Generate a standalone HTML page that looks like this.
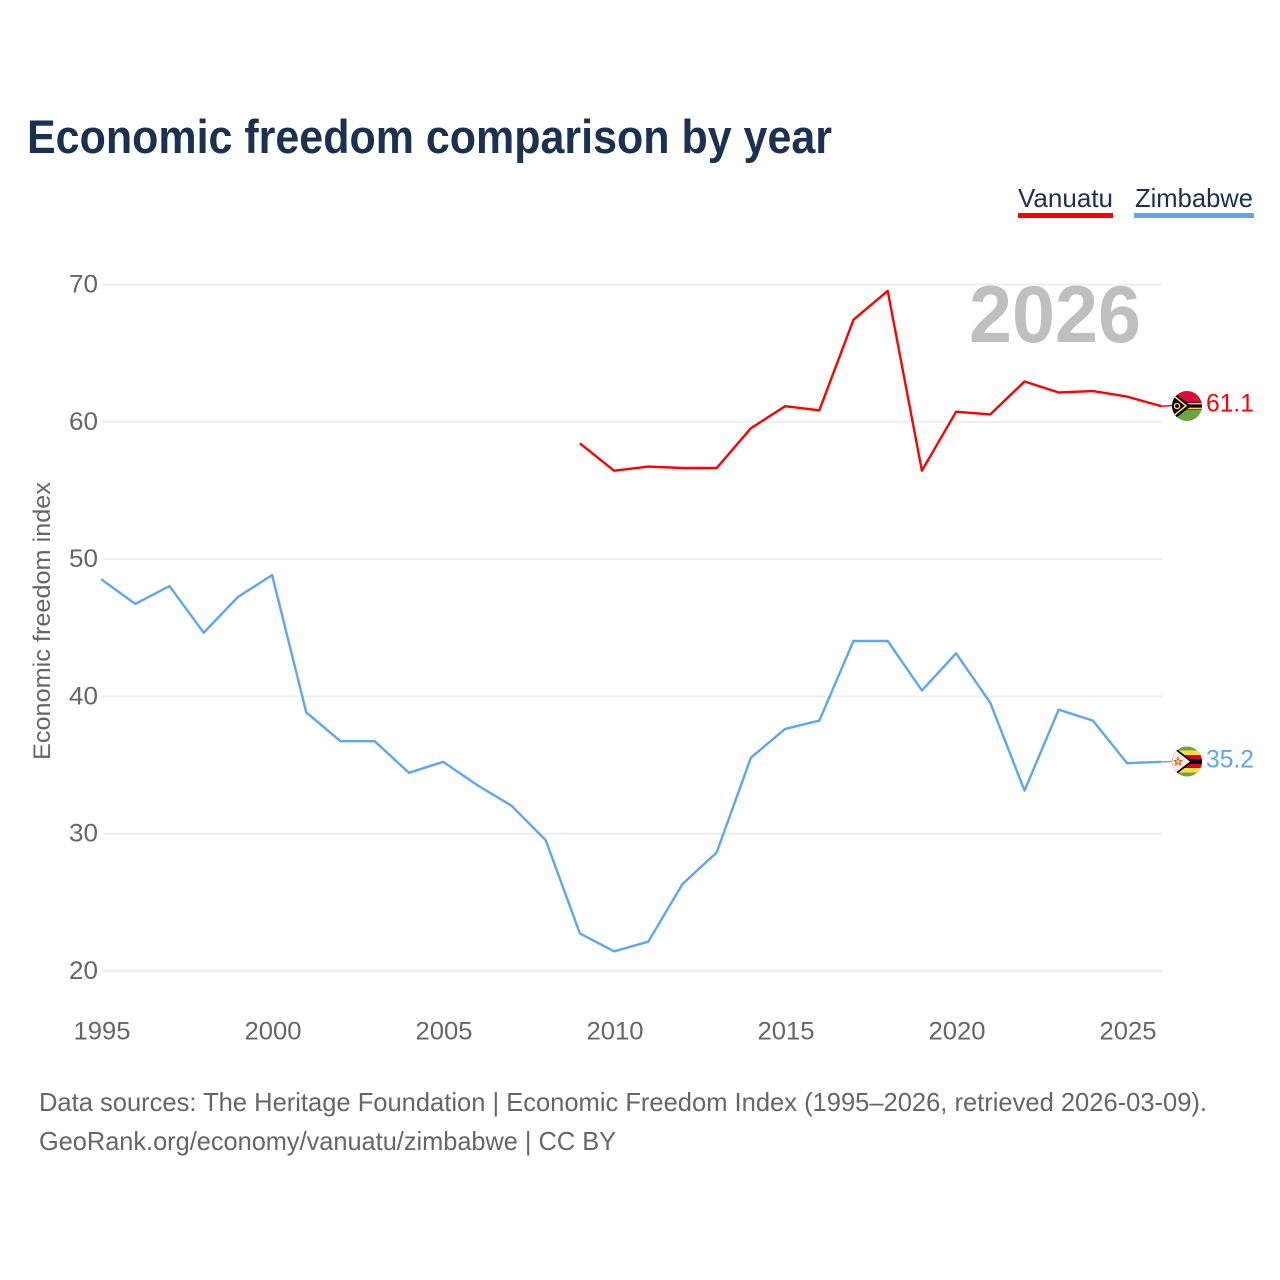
<!DOCTYPE html>
<html lang="en">
<head>
<meta charset="utf-8">
<title>Economic freedom comparison by year</title>
<style>
html,body{margin:0;padding:0;background:#fff}
svg{display:block}
text{font-family:"Liberation Sans",sans-serif}
</style>
</head>
<body>
<svg id="chart" xmlns="http://www.w3.org/2000/svg" width="1280" height="1280" viewBox="0 0 1280 1280">
  <defs>
    <clipPath id="clip-vu"><circle cx="1187" cy="406" r="15"/></clipPath>
    <clipPath id="clip-zw"><circle cx="1187" cy="761.5" r="15"/></clipPath>
  </defs>
  <rect x="0" y="0" width="1280" height="1280" fill="#fff"/>
  <text x="27" y="153" font-size="47" font-weight="700" fill="#1a3151" textLength="805" lengthAdjust="spacingAndGlyphs">Economic freedom comparison by year</text>

  <g>
    <text x="1018" y="207" font-size="26" fill="#1a3151" textLength="95" lengthAdjust="spacingAndGlyphs">Vanuatu</text>
    <rect x="1018" y="213" width="95" height="5" fill="#ff0000"/>
  </g>
  <g>
    <text x="1135" y="207" font-size="26" fill="#1a3151" textLength="118" lengthAdjust="spacingAndGlyphs">Zimbabwe</text>
    <rect x="1134" y="213" width="120" height="5" fill="#5ea6ee"/>
  </g>

  <g id="grid"></g>
  <g id="y-axis"></g>
  <g id="x-axis"></g>
  <text transform="translate(50,760) rotate(-90)" x="0" y="0" font-size="24" fill="#666" textLength="278" lengthAdjust="spacingAndGlyphs">Economic freedom index</text>
  <text x="969" y="342" font-size="81" font-weight="700" fill="#bfbfbf" textLength="172" lengthAdjust="spacingAndGlyphs">2026</text>
  <g id="series"></g>

  <g clip-path="url(#clip-vu)">
    <rect x="1172" y="391" width="30" height="15" fill="#d80f36"/>
    <rect x="1172" y="406" width="30" height="16" fill="#6da544"/>
    <rect x="1178" y="402.5" width="24" height="7" fill="#000"/>
    <rect x="1178" y="403" width="24" height="1.4" fill="#ffd83a"/>
    <rect x="1178" y="407.6" width="24" height="1.4" fill="#ffd83a"/>
    <polygon points="1172,391 1191,406 1172,421" fill="#000"/>
    <polyline points="1172,394.5 1186,405.8 1172,417" fill="none" stroke="#ffd83a" stroke-width="1.6"/>
    <circle cx="1177" cy="406" r="2.6" fill="none" stroke="#ffd83a" stroke-width="1.4"/>
  </g>
  <g clip-path="url(#clip-zw)">
    <rect x="1172" y="746" width="30" height="32" fill="#6da544"/>
    <rect x="1172" y="750.5" width="30" height="22" fill="#ffda44"/>
    <rect x="1172" y="755" width="30" height="13" fill="#d80027"/>
    <rect x="1172" y="759" width="30" height="5" fill="#000"/>
    <polygon points="1170,744 1193,761.5 1170,779" fill="#000"/>
    <polygon points="1170,746 1190,761.5 1170,777" fill="#f0f0f0"/>
    <polygon points="1178,756 1179.5,760 1183,760 1180.5,762.5 1181.5,766 1178,764 1174.5,766 1175.5,762.5 1173,760 1176.5,760" fill="#e8604a"/>
    <circle cx="1178" cy="761.5" r="1.6" fill="#ffda44"/>
  </g>
  <g id="value-labels"></g>

  <text x="39" y="1111" font-size="26" fill="#666" textLength="1168" lengthAdjust="spacingAndGlyphs">Data sources: The Heritage Foundation | Economic Freedom Index (1995–2026, retrieved 2026-03-09).</text>
  <text x="39" y="1150" font-size="26" fill="#666" textLength="577" lengthAdjust="spacingAndGlyphs">GeoRank.org/economy/vanuatu/zimbabwe | CC BY</text>
</svg>
<script>
var years = [1995,1996,1997,1998,1999,2000,2001,2002,2003,2004,2005,2006,2007,2008,2009,2010,2011,2012,2013,2014,2015,2016,2017,2018,2019,2020,2021,2022,2023,2024,2025,2026];
var vanuatuValues = [null,null,null,null,null,null,null,null,null,null,null,null,null,null,58.4,56.4,56.7,56.6,56.6,59.5,61.1,60.8,67.4,69.5,56.4,60.7,60.5,62.9,62.1,62.2,61.8,61.1];
var zimbabweValues = [48.5,46.7,48.0,44.6,47.2,48.8,38.8,36.7,36.7,34.4,35.2,33.5,32.0,29.5,22.7,21.4,22.1,26.3,28.6,35.5,37.6,38.2,44.0,44.0,40.4,43.1,39.5,33.1,39.0,38.2,35.1,35.2];
var xTickLabels = [1995,2000,2005,2010,2015,2020,2025];
var yTickLabels = [20,30,40,50,60,70];

var NS = 'http://www.w3.org/2000/svg';
function xScale(year) { return 102 + (year - 1995) * 34.2; }
function yScale(value) { return 971 - (value - 20) * 13.73; }
function makeText(parent, x, y, size, fill, anchor, content, length) {
  var t = document.createElementNS(NS, 'text');
  t.setAttribute('x', x);
  t.setAttribute('y', y);
  t.setAttribute('font-size', size);
  t.setAttribute('fill', fill);
  t.setAttribute('text-anchor', anchor);
  t.setAttribute('textLength', length);
  t.setAttribute('lengthAdjust', 'spacingAndGlyphs');
  t.textContent = content;
  parent.appendChild(t);
  return t;
}

var grid = document.getElementById('grid');
var yAxis = document.getElementById('y-axis');
var xAxis = document.getElementById('x-axis');
var seriesGroup = document.getElementById('series');
var labelsGroup = document.getElementById('value-labels');

yTickLabels.forEach(function (v) {
  var l = document.createElementNS(NS, 'line');
  
  
  l.setAttribute('x1', 102);
  l.setAttribute('x2', 1162);
  l.setAttribute('y1', yScale(v));
  l.setAttribute('y2', yScale(v));
  l.setAttribute('stroke', '#eeeeee');
  l.setAttribute('stroke-width', 2);
  grid.appendChild(l);
  var t = makeText(yAxis, 98, yScale(v) + 8, 25, '#666', 'end', String(v), 29);
  
  
});

xTickLabels.forEach(function (y) {
  var t = makeText(xAxis, xScale(y), 1039.5, 25, '#666', 'middle', String(y), 57);
  
  
});

function drawSeries(values, color, lineName, connectorName, labelName, flagY) {
  var pts = [];
  values.forEach(function (v, i) {
    if (v !== null) pts.push((xScale(years[i]) - 0.9).toFixed(1) + ',' + (yScale(v) - 0.5).toFixed(1));
  });
  var line = document.createElementNS(NS, 'polyline');
  
  
  line.setAttribute('points', pts.join(' '));
  line.setAttribute('fill', 'none');
  line.setAttribute('stroke', color);
  line.setAttribute('stroke-width', 2.4);
  line.setAttribute('stroke-linejoin', 'round');
  seriesGroup.appendChild(line);

  var last = values[values.length - 1];
  var lastX = xScale(years[years.length - 1]) - 0.9;
  var lastY = yScale(last) - 0.5;
  var conn = document.createElementNS(NS, 'line');
  
  
  conn.setAttribute('x1', lastX);
  conn.setAttribute('y1', lastY);
  conn.setAttribute('x2', 1172);
  conn.setAttribute('y2', flagY);
  conn.setAttribute('stroke', color);
  conn.setAttribute('stroke-width', 1.5);
  seriesGroup.appendChild(conn);

  var label = makeText(labelsGroup, 1206, flagY + 6, 25, color, 'start', last.toFixed(1), 48);
  
  
}

drawSeries(vanuatuValues, '#ff0000', 'line-vanuatu', 'connector-vanuatu', 'value-label-vanuatu', 405.5);
drawSeries(zimbabweValues, '#5ea6ee', 'line-zimbabwe', 'connector-zimbabwe', 'value-label-zimbabwe', 761.5);
</script>
</body>
</html>
